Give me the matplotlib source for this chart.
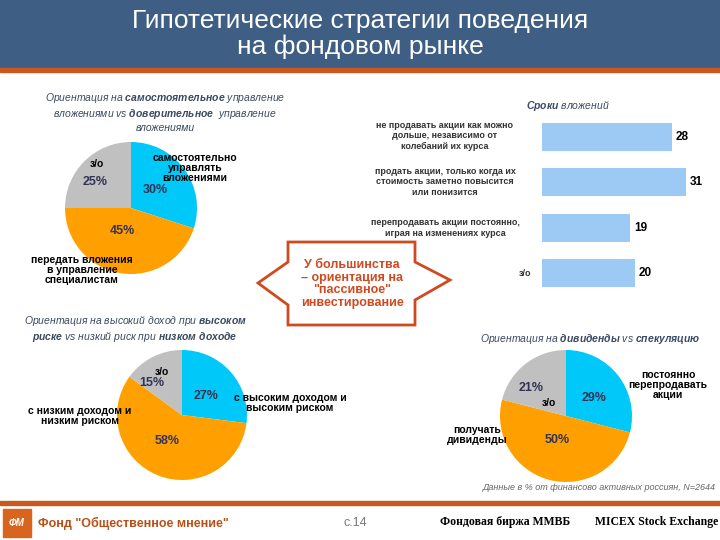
import matplotlib
import matplotlib.pyplot as plt
from matplotlib.patches import Rectangle, Polygon

plt.rcParams['font.family'] = ['Liberation Sans', 'DejaVu Sans']
plt.rcParams['mathtext.fontset'] = 'custom'
plt.rcParams['mathtext.bf'] = 'Liberation Sans:bold:italic'
plt.rcParams['mathtext.rm'] = 'Liberation Sans:italic'

pie_colors = ['#00c8f8', '#ffa000', '#c0c0c0']

pie1_values = [30, 45, 25]
pie2_values = [27, 58, 15]
pie3_values = [29, 50, 21]

bar_labels = ['не продавать акции как можно\nдольше, независимо от\nколебаний их курса',
              'продать акции, только когда их\nстоимость заметно повысится\nили понизится',
              'перепродавать акции постоянно,\nиграя на изменениях курса',
              'з/о']
bar_values = [28, 31, 19, 20]

W, H = 720, 540
fig = plt.figure(figsize=(7.2, 5.4), dpi=100)
bg = fig.add_axes([0, 0, 1, 1])
bg.set_xlim(0, W)
bg.set_ylim(H, 0)
bg.axis('off')


def pie(cx, cy, r, vals):
    ax = fig.add_axes([(cx - r) / W, 1 - (cy + r) / H, 2 * r / W, 2 * r / H])
    ax.pie(vals, colors=pie_colors, startangle=90, counterclock=False)
    ax.set_aspect('auto')
    ax.set_xlim(-1, 1)
    ax.set_ylim(-1, 1)
    return ax


pie(131, 208, 66, pie1_values)
pie(182, 415, 65, pie2_values)
pie(566, 416, 66, pie3_values)

# bars
bax = fig.add_axes([542 / W, 1 - 296 / H, 178 / W, (296 - 114) / H])
ypos = list(range(len(bar_values)))
bax.barh(ypos, bar_values, height=0.62, color='#9ccaf5')
bax.set_xlim(0, 38.4)
bax.set_ylim(len(bar_values) - 0.5, -0.5)
bax.axis('off')
for y, v in zip(ypos, bar_values):
    bax.text(v + 0.8, y, str(v), fontsize=8.5, fontweight='bold', va='center')

# overlay for text on top of pies
top = fig.add_axes([0, 0, 1, 1])
top.set_xlim(0, W)
top.set_ylim(H, 0)
top.axis('off')
top.patch.set_alpha(0)

# title banner
top.add_patch(Rectangle((0, 0), W, 68, color='#3e5f83'))
top.add_patch(Rectangle((0, 68), W, 4, color='#c8581e'))
top.text(360, 34, 'Гипотетические стратегии поведения\nна фондовом рынке', color='white',
         fontsize=19, ha='center', va='center', linespacing=1.05)

sub = '#3a4a60'
it = dict(fontsize=7.5, style='italic', color=sub, ha='center', va='center')
top.text(165, 112, 'Ориентация на $\\bf{самостоятельное}$ управление\nвложениями vs $\\bf{доверительное}$  управление\nвложениями', **it)
top.text(135, 329, 'Ориентация на высокий доход при $\\bf{высоком}$\n$\\bf{риске}$ vs низкий риск при $\\bf{низком\\ доходе}$', **it)
top.text(568, 106, '$\\bf{Сроки}$ вложений', **it)
top.text(590, 339, 'Ориентация на $\\bf{дивиденды}$ vs $\\bf{спекуляцию}$', **it)

bt = dict(fontsize=7.5, fontweight='bold', ha='center', va='center')
pc = dict(fontsize=9, fontweight='bold', color='#333355', ha='center', va='center')
top.text(195, 168, 'самостоятельно\nуправлять\nвложениями', linespacing=1.0, **bt)
top.text(155, 190, '%d%%' % pie1_values[0], **pc)
top.text(122, 231, '%d%%' % pie1_values[1], **pc)
top.text(97, 164, 'з/о', **bt)
top.text(95, 182, '%d%%' % pie1_values[2], **pc)
top.text(82, 270, 'передать вложения\nв управление\nспециалистам', linespacing=1.0, **bt)

top.text(206, 396, '%d%%' % pie2_values[0], **pc)
top.text(290, 403, 'с высоким доходом и\nвысоким риском', linespacing=1.0, **bt)
top.text(167, 441, '%d%%' % pie2_values[1], **pc)
top.text(80, 416, 'с низким доходом и\nнизким риском', linespacing=1.0, **bt)
top.text(152, 383, '%d%%' % pie2_values[2], **pc)
top.text(162, 372, 'з/о', **bt)

top.text(594, 398, '%d%%' % pie3_values[0], **pc)
top.text(668, 385, 'постоянно\nперепродавать\nакции', linespacing=1.0, **bt)
top.text(557, 440, '%d%%' % pie3_values[1], **pc)
top.text(477, 435, 'получать\nдивиденды', linespacing=1.0, **bt)
top.text(531, 388, '%d%%' % pie3_values[2], **pc)
top.text(549, 403, 'з/о', **bt)

for y, lab in zip([136, 182, 228, 274], bar_labels):
    top.text(445 if lab != 'з/о' else 525, y, lab, fontsize=6.5, fontweight='bold', color='#333333',
             ha='center', va='center', linespacing=1.2)

# callout
pts = [(288, 242), (415, 242), (415, 262), (450, 280), (415, 300), (415, 325),
       (288, 325), (288, 305), (258, 283), (288, 262)]
top.add_patch(Polygon(pts, closed=True, facecolor='white', edgecolor='#d04a20', lw=2))
top.text(352, 284, 'У большинства\n– ориентация на\n"пассивное"\nинвестирование', fontsize=9,
         fontweight='bold', color='#d04a20', ha='center', va='center', linespacing=1.05)

top.text(716, 487, 'Данные в % от финансово активных россиян, N=2644', fontsize=6.5,
         style='italic', color='#666666', ha='right', va='center')

# footer
top.add_patch(Rectangle((0, 501), W, 4, color='#c8581e'))
top.add_patch(Rectangle((3, 509), 28, 28, color='#d8641e'))
top.text(17, 523, 'ФМ', fontsize=7, fontweight='bold', color='white', ha='center', va='center', style='italic')
top.text(38, 523, 'Фонд "Общественное мнение"', fontsize=9, fontweight='bold', color='#b85018', va='center')
top.text(343, 523, 'с.14', fontsize=9, color='#777777', va='center')
top.text(440, 522, 'Фондовая биржа ММВБ', fontsize=8.5, fontweight='bold', family='Liberation Serif', va='center')
top.text(595, 522, 'MICEX Stock Exchange', fontsize=8.5, fontweight='bold', family='Liberation Serif', va='center')

fig.savefig('out.png', dpi=100)
